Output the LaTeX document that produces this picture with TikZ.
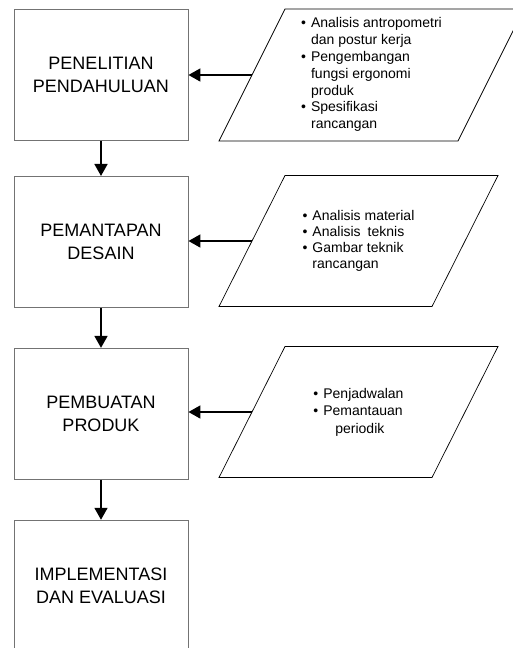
\documentclass[tikz,border=0pt]{standalone}
\usepackage{fontspec}
\setmainfont{Liberation Sans}
\usetikzlibrary{positioning}
\usetikzlibrary{arrows.meta}

\newcommand{\jajargenjang}[3]{%
  \draw[bingkai] ([shift={(-#2,#3)}]#1.center) -- ([shift={(-#2+66,-#3)}]#1.center)
    -- ([shift={(#2,-#3)}]#1.center) -- ([shift={(#2-66,#3)}]#1.center) -- cycle;
  \coordinate (#1kiri) at ([shift={(-#2+33,0)}]#1.center);}

\begin{document}
\begin{tikzpicture}[x=1pt, y=-1pt,
      tahap/.style={shape=rectangle, draw=black!55, line width=0.9pt,
        minimum width=174pt, minimum height=131pt, align=center,
        font=\fontsize{18}{22.5}\selectfont},
      isi/.style={inner sep=0pt, font=\fontsize{14}{16}\selectfont},
      bingkai/.style={draw, line width=0.7pt},
      panah/.style={line width=1.8pt, -{Triangle[length=12pt,width=13pt]}}]
  \clip (0,0) rectangle (513,648);
  \node[tahap] (b1) at (101,75) {PENELITIAN\\PENDAHULUAN};
  \node[tahap, below=35pt of b1] (b2) {PEMANTAPAN\\DESAIN};
  \node[tahap, below=40pt of b2] (b3) {PEMBUATAN\\PRODUK};
  \node[tahap, below=40pt of b3] (b4) {IMPLEMENTASI\\DAN EVALUASI};

  \node[isi, font=\fontsize{14}{16.8}\selectfont] (p1) at (371.5,75) {%
    \begin{tabular}{@{}l@{\hspace{5pt}}l@{}}
      \textbullet & Analisis antropometri\\
                  & dan postur kerja\\
      \textbullet & Pengembangan\\
                  & fungsi ergonomi\\
                  & produk\\
      \textbullet & Spesifikasi\\
                  & rancangan
    \end{tabular}};
  \node[isi] (p2) at (358.5,241) {%
    \begin{tabular}{@{}l@{\hspace{5pt}}l@{}}
      \textbullet & Analisis material\\
      \textbullet & Analisis\hspace{7pt}teknis\\
      \textbullet & Gambar teknik\\
                  & rancangan
    \end{tabular}};
  \node[isi, font=\fontsize{14}{17.5}\selectfont] (p3) at (358.5,412) {%
    \begin{tabular}{@{}l@{\hspace{5pt}}l@{}}
      \textbullet & Penjadwalan\\
      \textbullet & Pemantauan\\
                  & \hspace{12pt}periodik
    \end{tabular}};
  \jajargenjang{p1}{152.5}{66}
  \jajargenjang{p2}{139.5}{65.5}
  \jajargenjang{p3}{139.5}{65.5}

  \draw[panah] (b1.south) -- (b2.north);
  \draw[panah] (b2.south) -- (b3.north);
  \draw[panah] (b3.south) -- (b4.north);
  \draw[panah] (p1kiri) -- (p1kiri -| b1.east);
  \draw[panah] (p2kiri) -- (p2kiri -| b2.east);
  \draw[panah] (p3kiri) -- (p3kiri -| b3.east);
\end{tikzpicture}
\end{document}
